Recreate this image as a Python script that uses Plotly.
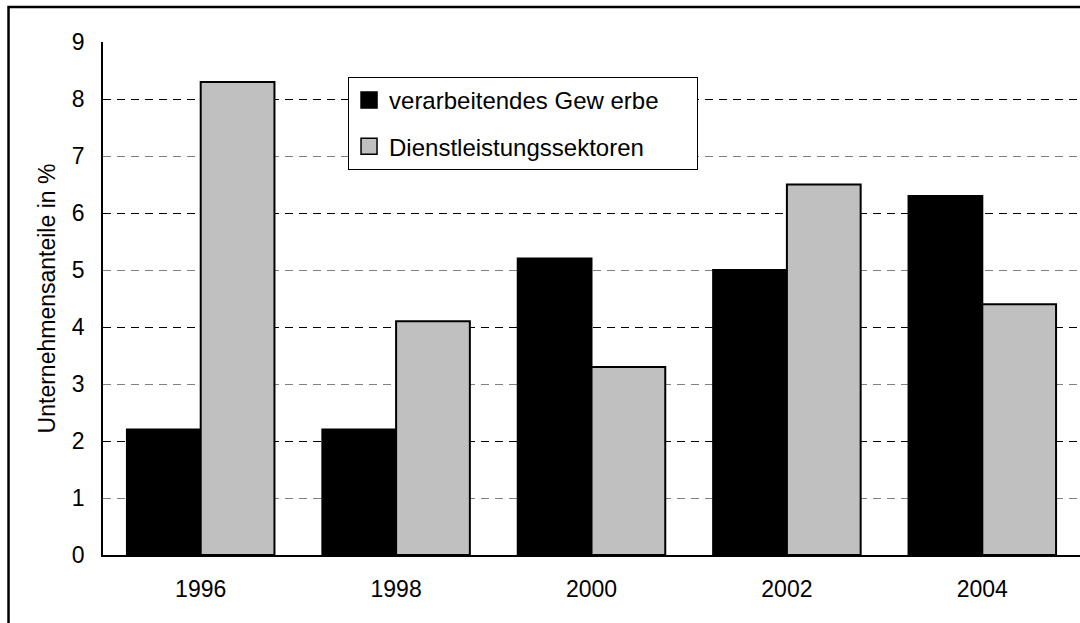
import plotly.graph_objects as go

# Survey years and shares of companies (in %) per sector
years = ["1996", "1998", "2000", "2002", "2004"]
manufacturing = [2.2, 2.2, 5.2, 5.0, 6.3]
services = [8.3, 4.1, 3.3, 6.5, 4.4]

series_names = ["verarbeitendes Gew erbe", "Dienstleistungssektoren"]
series_colors = ["#000000", "#C0C0C0"]
y_ticks = [0, 1, 2, 3, 4, 5, 6, 7, 8, 9]

FONT = "Liberation Sans, Arial, sans-serif"
PAD = "\u00a0" * 5  # extra room on the right of the legend box

fig = go.Figure()

for name, vals, color in zip(series_names, [manufacturing, services], series_colors):
    fig.add_trace(go.Bar(
        x=years, y=vals, name=name,
        marker=dict(color=color, line=dict(color="#000000", width=2)),
        showlegend=False,
    ))

# legend entries with larger square keys
for i, (name, color) in enumerate(zip(series_names, series_colors)):
    fig.add_trace(go.Scatter(
        x=[None], y=[None], mode="markers", name=name + PAD,
        legendgroup=f"g{i}", yaxis="y2",
        marker=dict(symbol="square", size=16, color=color,
                    line=dict(color="#000000", width=1.5)),
    ))

grid_dash = "8px,6px"

fig.update_layout(
    width=1080, height=623,
    margin=dict(l=103, r=0, t=42, b=68),
    paper_bgcolor="white", plot_bgcolor="white",
    font=dict(family=FONT, size=23, color="#000000"),
    barmode="group", bargap=0.245, bargroupgap=0,
    xaxis=dict(
        type="category", showline=True, linecolor="#000000", linewidth=1.5,
        ticks="", showgrid=False, ticklabelstandoff=13,
        tickfont=dict(size=23),
    ),
    yaxis=dict(
        range=[0, 9], tickvals=y_ticks, showline=True, linecolor="#000000",
        linewidth=1.5, ticks="", zeroline=False,
        showgrid=True, gridcolor="#808080", gridwidth=1, griddash=grid_dash,
        ticklabelstandoff=12, tickfont=dict(size=23),
        title=dict(text="Unternehmensanteile in %", font=dict(size=23), standoff=10),
    ),
    yaxis2=dict(
        overlaying="y", range=[0, 9], tickvals=y_ticks[::2],
        showticklabels=False, showline=False, zeroline=False, ticks="",
        showgrid=True, gridcolor="#000000", gridwidth=1, griddash=grid_dash,
    ),
    legend=dict(
        x=0.2508, y=0.9318, xanchor="left", yanchor="top",
        bgcolor="white", bordercolor="#000000", borderwidth=1,
        font=dict(size=24), tracegroupgap=12,
    ),
    shapes=[dict(
        type="rect", xref="paper", yref="paper",
        x0=-0.0967, x1=1.05, y0=-0.3, y1=1.0682,
        line=dict(color="#000000", width=2.5), fillcolor="rgba(0,0,0,0)",
        layer="above",
    )],
)

fig.write_html("out.html")
